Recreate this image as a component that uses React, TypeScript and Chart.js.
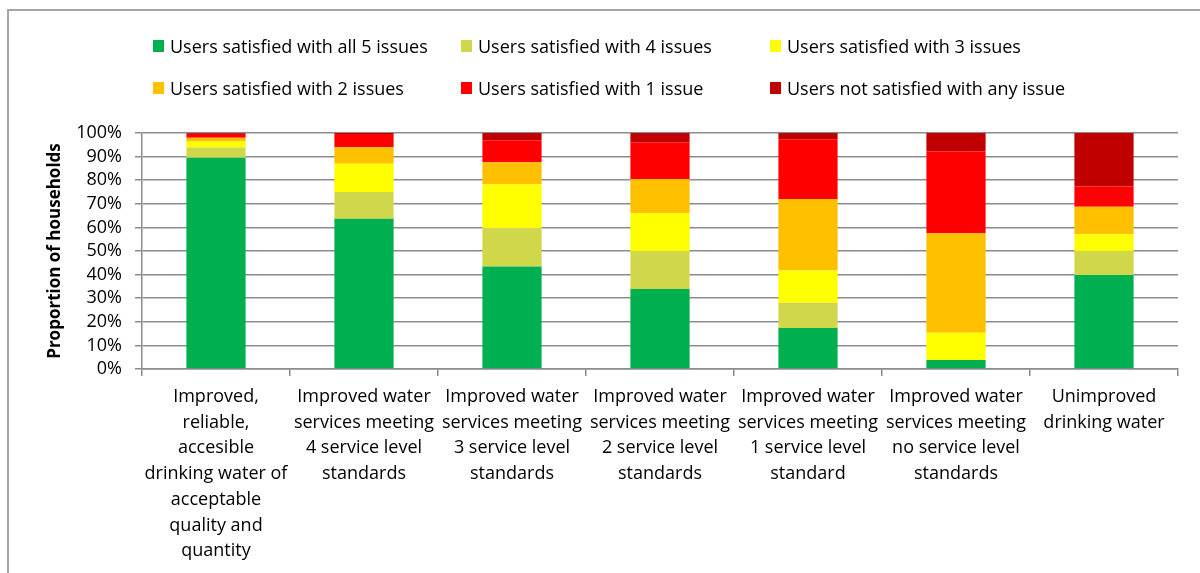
import React, { useEffect, useRef } from "react";
import { Chart, registerables } from "chart.js";

Chart.register(...registerables);

const categories: string[][] = [
  ["Improved,", "reliable,", "accesible", "drinking water of", "acceptable", "quality and", "quantity"],
  ["Improved water", "services meeting", "4 service level", "standards"],
  ["Improved water", "services meeting", "3 service level", "standards"],
  ["Improved water", "services meeting", "2 service level", "standards"],
  ["Improved water", "services meeting", "1 service level", "standard"],
  ["Improved water", "services meeting", "no service level", "standards"],
  ["Unimproved", "drinking water"],
];

const seriesNames = [
  "Users satisfied with all 5 issues",
  "Users satisfied with 4 issues",
  "Users satisfied with 3 issues",
  "Users satisfied with 2 issues",
  "Users satisfied with 1 issue",
  "Users not satisfied with any issue",
];

const all5 = [89.5, 63.7, 43.4, 33.9, 17.4, 3.8, 39.8];
const four = [4.4, 11.3, 16.2, 16.1, 10.7, 0, 10.2];
const three = [2.5, 12.0, 18.7, 16.0, 13.6, 11.6, 7.1];
const two = [1.6, 7.0, 9.3, 14.5, 30.3, 42.1, 11.7];
const one = [1.7, 5.6, 9.3, 15.6, 25.3, 34.7, 8.5];
const none = [0.3, 0.4, 3.1, 3.9, 2.7, 7.8, 22.7];

const colors = ["#00B050", "#D0D74A", "#FFFF00", "#FFC000", "#FF0000", "#C00000"];

const FONT = "'Open Sans', 'Noto Sans', sans-serif";

export default function App() {
  const canvasRef = useRef<HTMLCanvasElement | null>(null);

  useEffect(() => {
    const canvas = canvasRef.current;
    if (!canvas) return;
    const values = [all5, four, three, two, one, none];
    const chart = new Chart(canvas, {
      type: "bar",
      data: {
        labels: categories,
        datasets: values.map((v, i) => ({
          label: seriesNames[i],
          data: v,
          backgroundColor: colors[i],
          borderWidth: 0,
          barPercentage: 0.4,
          categoryPercentage: 1,
        })),
      },
      options: {
        responsive: false,
        animation: false,
        devicePixelRatio: 1,
        layout: { padding: { left: 0, top: 133, right: 22, bottom: 0 } },
        plugins: { legend: { display: false }, tooltip: { enabled: false } },
        scales: {
          x: {
            stacked: true,
            grid: {
              offset: true,
              drawOnChartArea: false,
              drawTicks: true,
              tickLength: 7,
              color: "#8c8c8c",
              lineWidth: 1.5,
            },
            border: { color: "#8c8c8c", width: 1.5 },
            ticks: {
              color: "#000",
              font: { family: FONT, size: 18, lineHeight: 1.43 },
              padding: 8,
              maxRotation: 0,
              minRotation: 0,
              autoSkip: false,
            },
            afterFit: (s: any) => {
              s.height = 573 - 369;
            },
          },
          y: {
            stacked: true,
            min: 0,
            max: 100,
            grid: {
              color: "#8c8c8c",
              lineWidth: 1.5,
              tickLength: 7,
            },
            border: { color: "#8c8c8c", width: 1.5 },
            ticks: {
              stepSize: 10,
              autoSkip: false,
              color: "#000",
              font: { family: FONT, size: 18, lineHeight: 1 },
              padding: 13,
              callback: (v: any) => v + "%",
            },
            title: {
              display: true,
              text: "Proportion of households",
              color: "#000",
              font: { family: FONT, size: 17, weight: "bold", lineHeight: 1.2 },
              padding: { top: 45, bottom: 0 },
            },
            afterFit: (s: any) => {
              s.width = 142;
            },
          },
        },
      },
    });
    return () => chart.destroy();
  }, []);

  const legendPos = [
    { x: 153, y: 46 },
    { x: 461, y: 46 },
    { x: 770, y: 46 },
    { x: 153, y: 88 },
    { x: 461, y: 88 },
    { x: 770, y: 88 },
  ];

  return (
    <div
      style={{
        position: "fixed",
        left: 0,
        top: 0,
        width: 1200,
        height: 573,
        overflow: "hidden",
        background: "#fff",
        fontFamily: FONT,
      }}
    >
      <div
        style={{
          position: "absolute",
          left: 7,
          top: 9,
          width: 1250,
          height: 700,
          border: "2px solid #a6a6a6",
          boxSizing: "border-box",
        }}
      />
      <canvas
        ref={canvasRef}
        width={1200}
        height={573}
        style={{ position: "absolute", left: 0, top: 0, width: 1200, height: 573 }}
      />
      {seriesNames.map((name, i) => (
        <div
          key={name}
          style={{
            position: "absolute",
            left: legendPos[i].x,
            top: legendPos[i].y - 12,
            height: 24,
            display: "flex",
            alignItems: "center",
            fontSize: 18,
            color: "#000",
            whiteSpace: "nowrap",
          }}
        >
          <span
            style={{
              display: "inline-block",
              width: 11,
              height: 12,
              background: colors[i],
              marginRight: 6,
            }}
          />
          {name}
        </div>
      ))}
    </div>
  );
}
